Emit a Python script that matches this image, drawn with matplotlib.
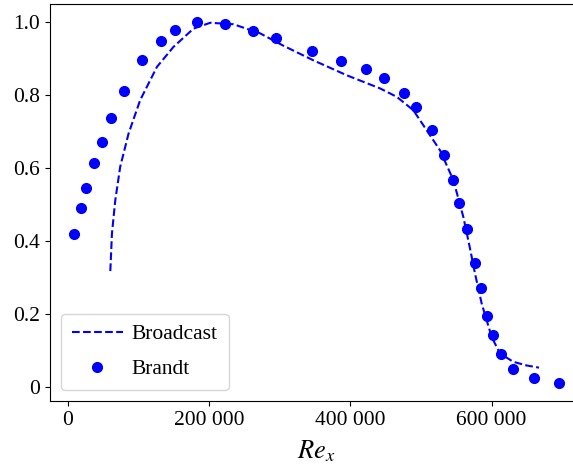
import numpy as np
import matplotlib
matplotlib.use("Agg")
import matplotlib.pyplot as plt
from matplotlib.ticker import FuncFormatter

plt.rcParams["font.family"] = ["Liberation Serif", "DejaVu Serif"]
plt.rcParams["mathtext.fontset"] = "stix"
plt.rcParams["font.size"] = 15.5

# ── Data ───────────────────────────────────────────────────────────────────────
# Broadcast prediction (dashed curve)
re_broadcast = [60000, 62300, 67000, 74000, 85800, 102300, 126000, 149500,
                177800, 201400, 234400, 272200, 305200, 347600, 394900,
                442000, 465600, 489200, 508100, 527000, 545900, 560000,
                569400, 576500, 585900, 600100, 611800, 630700, 649600,
                667100]
amp_broadcast = [0.317, 0.420, 0.511, 0.603, 0.694, 0.786, 0.877, 0.932,
                 0.982, 0.998, 0.994, 0.969, 0.935, 0.895, 0.854,
                 0.818, 0.795, 0.758, 0.703, 0.648, 0.566, 0.465,
                 0.379, 0.310, 0.228, 0.136, 0.091, 0.068, 0.058,
                 0.052]

# Brandt measurements (dots)
re_brandt = [8900, 18400, 24900, 36800, 47600, 60900, 78700, 105200, 131600,
             151500, 182600, 222700, 262300, 294800, 345400, 387300, 422700,
             447300, 475600, 493000, 515200, 532200, 545300, 554300, 565600,
             576500, 585000, 593500, 602400, 612900, 630700, 659600, 695000]
amp_brandt = [0.418, 0.490, 0.546, 0.613, 0.671, 0.738, 0.811, 0.895, 0.947,
              0.979, 1.000, 0.995, 0.976, 0.955, 0.920, 0.892, 0.871,
              0.846, 0.805, 0.766, 0.704, 0.635, 0.567, 0.505, 0.432,
              0.340, 0.271, 0.194, 0.142, 0.089, 0.049, 0.024, 0.010]

# ── Plot ───────────────────────────────────────────────────────────────────────
fig = plt.figure(figsize=(5.73, 4.72), dpi=100)
ax = fig.add_axes([0.0873, 0.1504, 0.930, 0.8411])

ax.plot(re_broadcast, amp_broadcast, color="blue", ls="--", lw=1.5,
        label="Broadcast")
ax.plot(re_brandt, amp_brandt, "o", color="blue", ms=7, label="Brandt")

ax.set_xlim(-25400, 729300)
ax.set_ylim(-0.0395, 1.0495)
ax.set_xticks([0, 200000, 400000, 600000])
ax.set_yticks([0, 0.2, 0.4, 0.6, 0.8, 1.0])
ax.xaxis.set_major_formatter(
    FuncFormatter(lambda v, _: f"{v:,.0f}".replace(",", " ")))
ax.yaxis.set_major_formatter(
    FuncFormatter(lambda v, _: "0" if v == 0 else f"{v:.1f}"))
ax.tick_params(labelsize=15.5)
ax.set_xlabel(r"$Re_x$", fontsize=19, labelpad=6)
ax.legend(loc="lower left", borderpad=0.5, labelspacing=0.7,
          handlelength=2.4, handletextpad=0.4, fontsize=15.5)

fig.savefig("out.png", dpi=100)
